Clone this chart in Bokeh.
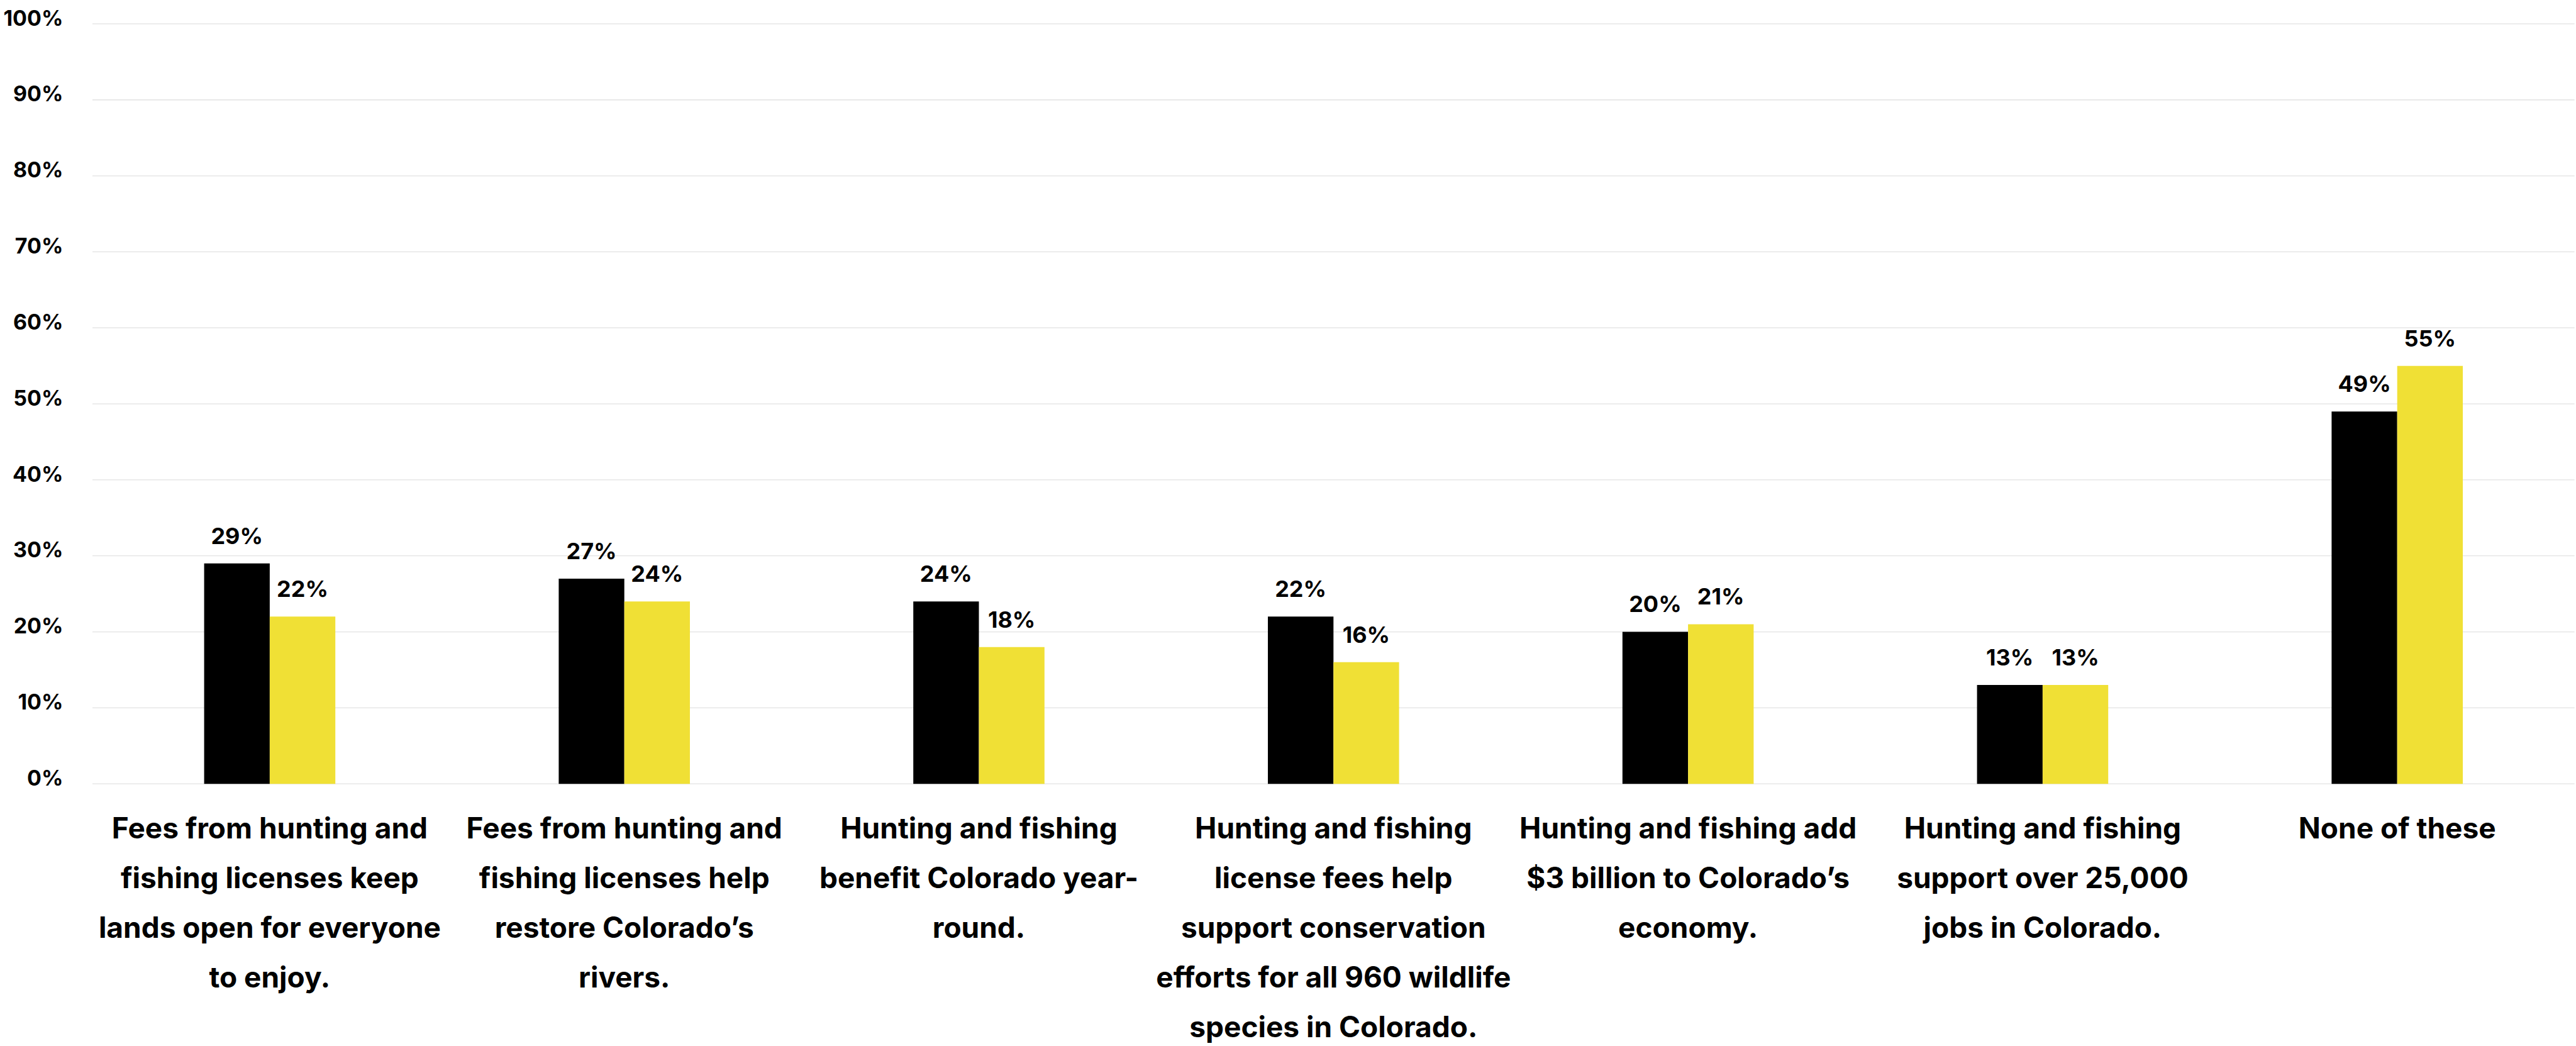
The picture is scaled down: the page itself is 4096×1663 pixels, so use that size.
from bokeh.plotting import figure
from bokeh.models import Range1d, ColumnDataSource
from bokeh.core.properties import value
from bokeh.embed import file_html
from bokeh.resources import INLINE

# ---------------- data ----------------
categories = [
    "Fees from hunting and\nfishing licenses keep\nlands open for everyone\nto enjoy.",
    "Fees from hunting and\nfishing licenses help\nrestore Colorado\u2019s\nrivers.",
    "Hunting and fishing\nbenefit Colorado year-\nround.",
    "Hunting and fishing\nlicense fees help\nsupport conservation\nefforts for all 960 wildlife\nspecies in Colorado.",
    "Hunting and fishing add\n$3 billion to Colorado\u2019s\neconomy.",
    "Hunting and fishing\nsupport over 25,000\njobs in Colorado.",
    "None of these",
]
black_values = [29, 27, 24, 22, 20, 13, 49]
yellow_values = [22, 24, 18, 16, 21, 13, 55]
y_ticks = [0, 10, 20, 30, 40, 50, 60, 70, 80, 90, 100]

# ---------------- layout / style ----------------
FONT = "Inter"
W, H = 4096, 1663
PLOT_LEFT = 146.5      # px from figure left to first category slot
GROUP_PX = 563.8       # px per category slot
ZERO_Y = 1245.7        # px from figure top to 0% line
PX_PER_PCT = 12.083    # px per percentage point
BAR_W = 0.185
BLACK = "#000000"
YELLOW = "#F0E035"
GRID = "#e2e2e2"
MID = 0.3635           # baseline -> text middle, in em

TICK_FS, VAL_FS, CAT_FS = 34, 36, 46
CAT_FIRST = 86.5       # px from 0% line to first label baseline
CAT_STEP = 79.0        # px between label lines

p = figure(
    width=W, height=H,
    x_range=Range1d(-PLOT_LEFT / GROUP_PX, (W - PLOT_LEFT) / GROUP_PX),
    y_range=Range1d(-(H - ZERO_Y) / PX_PER_PCT, ZERO_Y / PX_PER_PCT),
    x_axis_type=None, y_axis_type=None,
    output_backend="svg", toolbar_location=None,
    min_border=0, min_border_left=0, min_border_right=0,
    min_border_top=0, min_border_bottom=0,
)
p.outline_line_color = None
p.grid.visible = False
p.background_fill_color = "white"
p.border_fill_color = "white"

n = len(categories)
centers = [i + 0.5 for i in range(n)]

# gridlines
p.segment(x0=[0] * len(y_ticks), x1=[n] * len(y_ticks), y0=y_ticks, y1=y_ticks,
          line_color=GRID, line_width=1.3)

# y tick labels (baseline ~2.5px below the gridline)
p.text(x=[0] * len(y_ticks), y=y_ticks, text=[f"{t}%" for t in y_ticks],
       x_offset=-46.5, y_offset=2.5 - MID * TICK_FS,
       text_font=value(FONT), text_font_style="bold", text_font_size=f"{TICK_FS}px",
       text_align="right", text_baseline="middle", text_color="black")

# bars
src = ColumnDataSource(dict(
    xb=[c - BAR_W / 2 for c in centers],
    xy=[c + BAR_W / 2 for c in centers],
    black=black_values, yellow=yellow_values,
    lb=[f"{v}%" for v in black_values],
    ly=[f"{v}%" for v in yellow_values],
))
p.vbar(x="xb", top="black", bottom=0, width=BAR_W, source=src,
       fill_color=BLACK, line_color=None)
p.vbar(x="xy", top="yellow", bottom=0, width=BAR_W, source=src,
       fill_color=YELLOW, line_color=None)

# value labels (baseline 31px above bar top)
for xcol, ycol, lcol in (("xb", "black", "lb"), ("xy", "yellow", "ly")):
    p.text(x=xcol, y=ycol, text=lcol, source=src, y_offset=-31 - MID * VAL_FS,
           text_font=value(FONT), text_font_style="bold", text_font_size=f"{VAL_FS}px",
           text_align="center", text_baseline="middle", text_color="black")

# category labels, one text per wrapped line
lx, ltext, loff = [], [], []
for c, label in zip(centers, categories):
    for k, line in enumerate(label.split("\n")):
        lx.append(c)
        ltext.append(line)
        loff.append(CAT_FIRST + k * CAT_STEP - MID * CAT_FS)
cat_src = ColumnDataSource(dict(x=lx, y=[0] * len(lx), text=ltext, off=loff))
p.text(x="x", y="y", text="text", y_offset="off", source=cat_src,
       text_font=value(FONT), text_font_style="bold", text_font_size=f"{CAT_FS}px",
       text_align="center", text_baseline="middle", text_color="black")

open("out.html", "w").write(file_html(p, INLINE))
